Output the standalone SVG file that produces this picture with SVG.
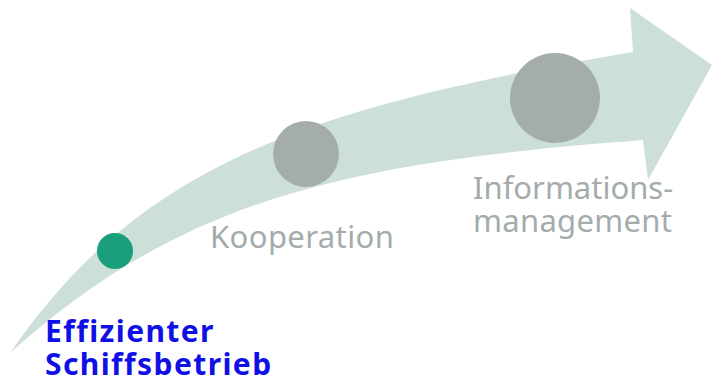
<svg xmlns="http://www.w3.org/2000/svg" width="713" height="383" viewBox="0 0 713 383">
<style>
.lbl{font-family:"Noto Sans","Open Sans",sans-serif;fill:#a3acaa;font-size:31px}
.main{font-family:"Noto Sans","Open Sans",sans-serif;fill:#1010e6;font-size:30px;font-weight:bold;letter-spacing:1.4px}
.gray{fill:#a4adab}
</style>
<rect width="713" height="383" fill="#ffffff"/>
<g id="connectors">
<path id="arrow" d="M10,353 C140,165 303,108 633,52 L630,8 L712,65 L648,180 L643,140 C343,162.5 180,200 10,353 Z" fill="#cddfd9"/>
</g>
<g id="node-schiffsbetrieb">
<circle cx="115" cy="251" r="18" fill="#1a9e7c"/>
<text class="main" x="45" y="342">Effizienter</text>
<text class="main" x="45" y="375">Schiffsbetrieb</text>
</g>
<g id="node-kooperation">
<circle class="gray" cx="306" cy="154" r="33"/>
<text class="lbl" x="210" y="248" font-size="32" letter-spacing="0.4">Kooperation</text>
</g>
<g id="node-informationsmanagement">
<circle class="gray" cx="555" cy="98" r="45"/>
<text class="lbl" x="473" y="199">Informations-</text>
<text class="lbl" x="473" y="232" letter-spacing="0.3">management</text>
</g>
</svg>
